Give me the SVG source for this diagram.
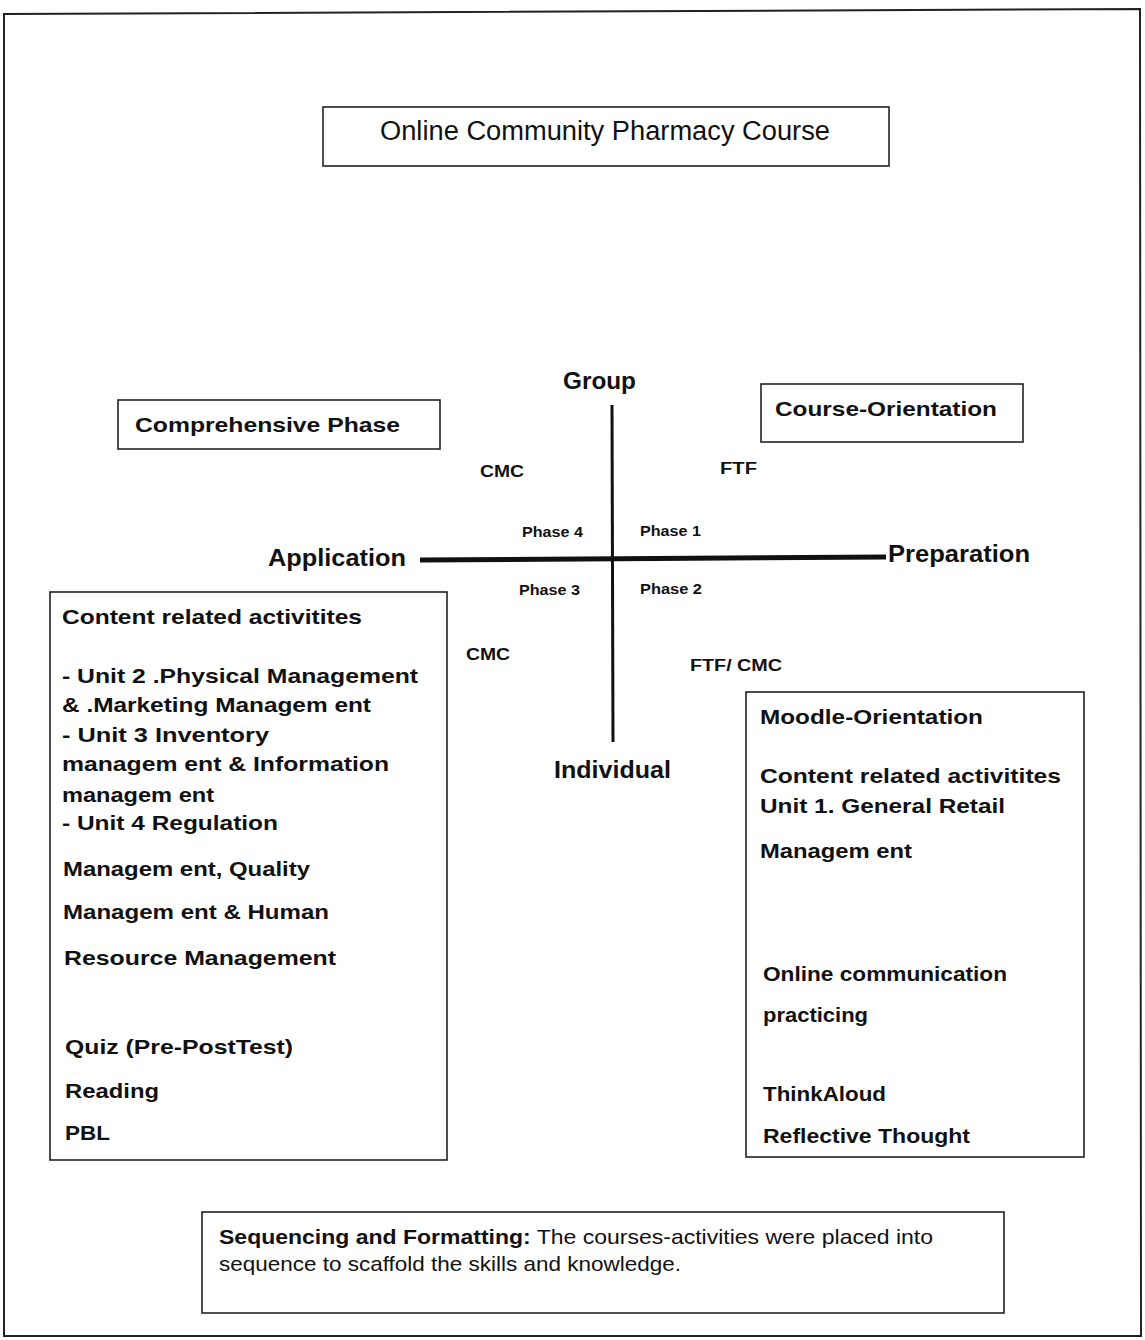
<svg xmlns="http://www.w3.org/2000/svg" width="1145" height="1340" viewBox="0 0 1145 1340">
<style>
.box{fill:#fff;stroke:#222;stroke-width:1.6}
.t{font-family:"Liberation Sans",Arial,sans-serif;fill:#111}
.lb{font-size:21px;font-weight:bold}
.ph{font-size:14px;font-weight:bold}
.md{font-size:16px;font-weight:bold}
.ax{font-size:23px;font-weight:bold}
.axis{stroke:#111;fill:none}
</style>
<rect x="0" y="0" width="1145" height="1340" fill="#fff"/>
<path d="M4 14 L1140 9 L1141 1336 L4 1336 Z" fill="none" stroke="#222" stroke-width="2"/>
<g id="title">
<rect class="box" x="323" y="107" width="566" height="59"/>
<text class="t" x="380" y="140" font-size="27" textLength="450" lengthAdjust="spacingAndGlyphs">Online Community Pharmacy Course</text>
</g>
<g id="connectors">
<line class="axis" x1="612" y1="405" x2="613" y2="742" stroke-width="3"/>
<line class="axis" x1="420" y1="560" x2="886" y2="557" stroke-width="5"/>
</g>
<g id="axis-labels">
<text class="t ax" x="563" y="389" textLength="73" lengthAdjust="spacingAndGlyphs">Group</text>
<text class="t ax" x="554" y="778" textLength="117" lengthAdjust="spacingAndGlyphs">Individual</text>
<text class="t ax" x="268" y="566" textLength="138" lengthAdjust="spacingAndGlyphs">Application</text>
<text class="t ax" x="888" y="562" textLength="142" lengthAdjust="spacingAndGlyphs">Preparation</text>
</g>
<g id="phase-labels">
<text class="t ph" x="522" y="537" textLength="61" lengthAdjust="spacingAndGlyphs">Phase 4</text>
<text class="t ph" x="640" y="536" textLength="61" lengthAdjust="spacingAndGlyphs">Phase 1</text>
<text class="t ph" x="519" y="595" textLength="61" lengthAdjust="spacingAndGlyphs">Phase 3</text>
<text class="t ph" x="640" y="594" textLength="62" lengthAdjust="spacingAndGlyphs">Phase 2</text>
<text class="t md" x="480" y="477" textLength="44" lengthAdjust="spacingAndGlyphs">CMC</text>
<text class="t md" x="720" y="474" textLength="37" lengthAdjust="spacingAndGlyphs">FTF</text>
<text class="t md" x="466" y="660" textLength="44" lengthAdjust="spacingAndGlyphs">CMC</text>
<text class="t md" x="690" y="671" textLength="92" lengthAdjust="spacingAndGlyphs">FTF/ CMC</text>
</g>
<g id="comprehensive-phase">
<rect class="box" x="118" y="400" width="322" height="49"/>
<text class="t lb" x="135" y="432" textLength="265" lengthAdjust="spacingAndGlyphs">Comprehensive Phase</text>
</g>
<g id="course-orientation">
<rect class="box" x="761" y="384" width="262" height="58"/>
<text class="t lb" x="775" y="416" textLength="222" lengthAdjust="spacingAndGlyphs">Course-Orientation</text>
</g>
<g id="left-box">
<rect class="box" x="50" y="592" width="397" height="568"/>
<g class="t lb">
<text x="62" y="624" textLength="300" lengthAdjust="spacingAndGlyphs">Content related activitites</text>
<text x="62" y="683" textLength="356" lengthAdjust="spacingAndGlyphs">- Unit 2 .Physical Management</text>
<text x="62" y="712" textLength="309" lengthAdjust="spacingAndGlyphs">&amp; .Marketing Managem ent</text>
<text x="62" y="742" textLength="207" lengthAdjust="spacingAndGlyphs">- Unit  3 Inventory</text>
<text x="62" y="771" textLength="327" lengthAdjust="spacingAndGlyphs">managem ent &amp;  Information</text>
<text x="62" y="802" textLength="152" lengthAdjust="spacingAndGlyphs">managem ent</text>
<text x="62" y="830" textLength="216" lengthAdjust="spacingAndGlyphs">- Unit 4 Regulation</text>
<text x="63" y="876" textLength="247" lengthAdjust="spacingAndGlyphs">Managem ent, Quality</text>
<text x="63" y="919" textLength="266" lengthAdjust="spacingAndGlyphs">Managem ent &amp; Human</text>
<text x="64" y="965" textLength="272" lengthAdjust="spacingAndGlyphs">Resource Management</text>
<text x="65" y="1054" textLength="228" lengthAdjust="spacingAndGlyphs">Quiz (Pre-PostTest)</text>
<text x="65" y="1098" textLength="94" lengthAdjust="spacingAndGlyphs">Reading</text>
<text x="65" y="1140" textLength="45" lengthAdjust="spacingAndGlyphs">PBL</text>
</g>
</g>
<g id="right-box">
<rect class="box" x="746" y="692" width="338" height="465"/>
<g class="t lb">
<text x="760" y="724" textLength="223" lengthAdjust="spacingAndGlyphs">Moodle-Orientation</text>
<text x="760" y="783" textLength="301" lengthAdjust="spacingAndGlyphs">Content related activitites</text>
<text x="760" y="813" textLength="245" lengthAdjust="spacingAndGlyphs">Unit 1. General Retail</text>
<text x="760" y="858" textLength="152" lengthAdjust="spacingAndGlyphs">Managem ent</text>
<text x="763" y="981" textLength="244" lengthAdjust="spacingAndGlyphs">Online communication</text>
<text x="763" y="1022" textLength="105" lengthAdjust="spacingAndGlyphs">practicing</text>
<text x="763" y="1101" textLength="123" lengthAdjust="spacingAndGlyphs">ThinkAloud</text>
<text x="763" y="1143" textLength="207" lengthAdjust="spacingAndGlyphs">Reflective Thought</text>
</g>
</g>
<g id="sequencing">
<rect class="box" x="202" y="1212" width="802" height="101"/>
<text class="t" x="219" y="1244" font-size="21" textLength="714" lengthAdjust="spacingAndGlyphs"><tspan font-weight="bold">Sequencing and Formatting:</tspan> The courses-activities were placed into</text>
<text class="t" x="219" y="1271" font-size="21" textLength="462" lengthAdjust="spacingAndGlyphs">sequence to scaffold the skills and knowledge.</text>
</g>
</svg>
